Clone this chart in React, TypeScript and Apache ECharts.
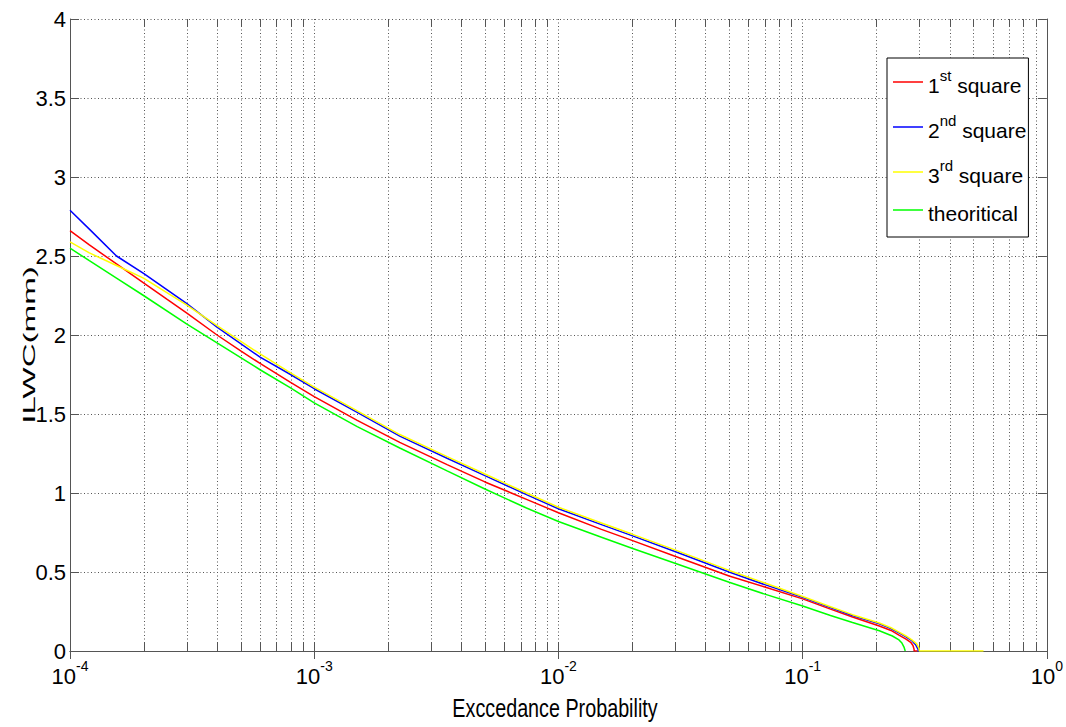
import React, { useEffect, useRef } from "react";
import * as echarts from "echarts";

// [exceedance probability, ILWC (mm)]
const square1: [number, number][] = [
  [1e-4, 2.66], [1.2e-4, 2.57], [1.55e-4, 2.45], [2e-4, 2.33], [2.5e-4, 2.225], [3e-4, 2.14],
  [4e-4, 2.0], [5e-4, 1.9], [6e-4, 1.82], [8e-4, 1.7], [1e-3, 1.61], [1.5e-3, 1.46],
  [2.24e-3, 1.32], [3.5e-3, 1.18], [5e-3, 1.07], [7.4e-3, 0.96], [1e-2, 0.875], [1.5e-2, 0.77],
  [2e-2, 0.7], [3e-2, 0.6], [5e-2, 0.475], [7e-2, 0.405], [1e-1, 0.33], [1.3e-1, 0.265],
  [1.6e-1, 0.215], [2.06e-1, 0.158], [2.3e-1, 0.13], [2.48e-1, 0.1], [2.65e-1, 0.075],
  [2.77e-1, 0.055], [2.83e-1, 0.035], [2.86e-1, 0.01], [2.86e-1, 0], [2.95e-1, 0],
];
const square2: [number, number][] = [
  [1e-4, 2.79], [1.2e-4, 2.67], [1.55e-4, 2.5], [2e-4, 2.39], [3e-4, 2.2], [4e-4, 2.05],
  [6e-4, 1.86], [8e-4, 1.75], [1e-3, 1.66], [1.5e-3, 1.51], [2.24e-3, 1.36], [3.5e-3, 1.22],
  [5e-3, 1.11], [7.4e-3, 0.99], [1e-2, 0.9], [1.5e-2, 0.8], [2e-2, 0.73], [3e-2, 0.63],
  [5e-2, 0.5], [7e-2, 0.42], [1e-1, 0.34], [1.3e-1, 0.275], [1.6e-1, 0.225], [2.06e-1, 0.172],
  [2.3e-1, 0.142], [2.48e-1, 0.115], [2.65e-1, 0.09], [2.8e-1, 0.065], [2.9e-1, 0.04],
  [2.97e-1, 0.01], [2.97e-1, 0], [3.0e-1, 0],
];
const square3: [number, number][] = [
  [1e-4, 2.59], [1.2e-4, 2.52], [1.55e-4, 2.44], [2e-4, 2.36], [3e-4, 2.19], [4e-4, 2.06],
  [6e-4, 1.88], [8e-4, 1.76], [1e-3, 1.67], [1.5e-3, 1.52], [2.24e-3, 1.37], [3.5e-3, 1.23],
  [5e-3, 1.12], [7.4e-3, 1.0], [1e-2, 0.91], [1.5e-2, 0.81], [2e-2, 0.74], [3e-2, 0.64],
  [5e-2, 0.51], [7e-2, 0.43], [1e-1, 0.345], [1.3e-1, 0.28], [1.6e-1, 0.23], [2.06e-1, 0.177],
  [2.3e-1, 0.147], [2.48e-1, 0.12], [2.65e-1, 0.095], [2.8e-1, 0.07], [2.93e-1, 0.045],
  [3.0e-1, 0.015], [3.0e-1, 0], [5.5e-1, 0],
];
const theoretical: [number, number][] = [
  [1e-4, 2.55], [1.2e-4, 2.47], [1.55e-4, 2.36], [2e-4, 2.25], [3e-4, 2.07], [4e-4, 1.95],
  [6e-4, 1.78], [8e-4, 1.665], [1e-3, 1.57], [1.5e-3, 1.42], [2.24e-3, 1.285], [3.5e-3, 1.14],
  [5e-3, 1.025], [7.4e-3, 0.905], [1e-2, 0.82], [1.5e-2, 0.72], [2e-2, 0.65], [3e-2, 0.555],
  [5e-2, 0.435], [7e-2, 0.36], [1e-1, 0.285], [1.3e-1, 0.225], [1.6e-1, 0.18], [2.06e-1, 0.128],
  [2.33e-1, 0.095], [2.48e-1, 0.07], [2.55e-1, 0.05], [2.6e-1, 0.025], [2.63e-1, 0],
];

const seriesNames = ["1st square", "2nd square", "3rd square", "theoritical"];
const seriesColors = ["#ff0000", "#0000ff", "#ffff00", "#00ff00"];
const seriesData = [square1, square2, square3, theoretical];

const xMin = 1e-4;
const xMax = 1;
const yMin = 0;
const yMax = 4;
const yStep = 0.5;

// minor log ticks 2..9 of each decade
const minorDecades = [-4, -3, -2, -1];
const minorMultipliers = [2, 3, 4, 5, 6, 7, 8, 9];

const xTitle = "Exccedance Probability";
const yTitle = "ILWC(mm)";

const LABEL_FONT = "'Liberation Sans', Arial, sans-serif";
const AXIS_COLOR = "#555";
const GRID_COLOR = "#555";

export default function App() {
  const ref = useRef<HTMLDivElement>(null);

  useEffect(() => {
    if (!ref.current) return;
    const chart = echarts.init(ref.current, null, { renderer: "svg" });

    const minorData: number[][] = [];
    minorDecades.forEach((d) =>
      minorMultipliers.forEach((m) => minorData.push([m * Math.pow(10, d), 0]))
    );

    const axisRich = {
      n: { fontSize: 22, fontFamily: LABEL_FONT, color: "#000", lineHeight: 28, verticalAlign: "bottom" as const },
      sup: { fontSize: 14, fontFamily: LABEL_FONT, color: "#000", lineHeight: 14, verticalAlign: "top" as const },
    };
    const legendRich = {
      n: { fontSize: 21, fontFamily: LABEL_FONT, color: "#000", lineHeight: 28, verticalAlign: "bottom" as const },
      sup: { fontSize: 15, fontFamily: LABEL_FONT, color: "#000", lineHeight: 15, verticalAlign: "top" as const },
    };

    const option: any = {
      animation: false,
      backgroundColor: "#fff",
      grid: { left: 70, right: 18, top: 19, bottom: 76, containLabel: false },
      legend: {
        data: seriesNames,
        orient: "vertical",
        left: 887,
        top: 58,
        padding: [10, 2, 13, 6],
        itemGap: 17,
        itemWidth: 30,
        itemHeight: 1.5,
        icon: "rect",
        borderColor: "#000",
        borderWidth: 1,
        backgroundColor: "#fff",
        formatter: (name: string) => {
          const m = name.match(/^(\d)(st|nd|rd) (.*)$/);
          return m ? `{n|${m[1]}}{sup|${m[2]}}{n| ${m[3]}}` : `{n|${name}}`;
        },
        textStyle: { rich: legendRich, fontSize: 21, fontFamily: LABEL_FONT },
      },
      xAxis: [
        {
          type: "log",
          logBase: 10,
          min: xMin,
          max: xMax,
          position: "bottom",
          axisLine: { show: true, lineStyle: { color: AXIS_COLOR, width: 1 } },
          axisTick: { show: true, inside: true, length: 8, lineStyle: { color: AXIS_COLOR } },
          axisLabel: {
            show: true,
            margin: 8,
            formatter: (v: number) => `{n|10}{sup|${Math.round(Math.log10(v))}}`,
            rich: axisRich,
          },
          splitLine: { show: true, lineStyle: { color: GRID_COLOR, type: [1, 2.5], width: 1 } },
        },
        {
          type: "log",
          logBase: 10,
          min: xMin,
          max: xMax,
          position: "top",
          axisLine: { show: true, lineStyle: { color: AXIS_COLOR, width: 1 } },
          axisTick: { show: true, inside: true, length: 8, lineStyle: { color: AXIS_COLOR } },
          axisLabel: { show: false },
          splitLine: { show: false },
        },
      ],
      yAxis: [
        {
          type: "value",
          min: yMin,
          max: yMax,
          interval: yStep,
          position: "left",
          axisLine: { show: true, lineStyle: { color: AXIS_COLOR, width: 1 } },
          axisTick: { show: true, inside: true, length: 9, lineStyle: { color: AXIS_COLOR } },
          axisLabel: { margin: 4, fontSize: 22, fontFamily: LABEL_FONT, color: "#000" },
          splitLine: { show: true, lineStyle: { color: GRID_COLOR, type: [1, 2.5], width: 1 } },
        },
        {
          type: "value",
          min: yMin,
          max: yMax,
          interval: yStep,
          position: "right",
          axisLine: { show: true, lineStyle: { color: AXIS_COLOR, width: 1 } },
          axisTick: { show: true, inside: true, length: 9, lineStyle: { color: AXIS_COLOR } },
          axisLabel: { show: false },
          splitLine: { show: false },
        },
      ],
      graphic: [
        {
          type: "text",
          x: 555,
          y: 708,
          scaleX: 0.76,
          style: {
            text: xTitle,
            fontSize: 26,
            fontFamily: "'Liberation Sans', Arial, sans-serif",
            fill: "#000",
            align: "center",
            verticalAlign: "middle",
          },
        },
        {
          type: "text",
          x: 29,
          y: 345,
          rotation: Math.PI / 2,
          scaleX: 1.95,
          style: {
            text: yTitle,
            fontSize: 17,
            fontFamily: "'Liberation Sans', Arial, sans-serif",
            fill: "#000",
            align: "center",
            verticalAlign: "middle",
          },
        },
      ],
      series: [
        {
          type: "custom",
          name: "minor",
          xAxisIndex: 0,
          yAxisIndex: 0,
          silent: true,
          z: 1,
          data: minorData,
          encode: { x: 0, y: 1 },
          renderItem: (params: any, api: any) => {
            const v = api.value(0);
            const top = api.coord([v, yMax]);
            const bot = api.coord([v, yMin]);
            const x = Math.round(bot[0]) + 0.5;
            return {
              type: "group",
              children: [
                {
                  type: "line",
                  shape: { x1: x, y1: top[1], x2: x, y2: bot[1] },
                  style: { stroke: GRID_COLOR, lineWidth: 1, lineDash: [1, 2.5] },
                },
                {
                  type: "line",
                  shape: { x1: x, y1: bot[1], x2: x, y2: bot[1] - 8 },
                  style: { stroke: AXIS_COLOR, lineWidth: 1 },
                },
                {
                  type: "line",
                  shape: { x1: x, y1: top[1], x2: x, y2: top[1] + 8 },
                  style: { stroke: AXIS_COLOR, lineWidth: 1 },
                },
              ],
            };
          },
        },
        ...seriesNames.map((name, i) => ({
          type: "line",
          name,
          data: seriesData[i],
          xAxisIndex: 0,
          yAxisIndex: 0,
          symbol: "none",
          z: 3 + i,
          lineStyle: { color: seriesColors[i], width: 1.5 },
          itemStyle: { color: seriesColors[i] },
          clip: true,
        })),
      ],
    };

    chart.setOption(option);
    return () => chart.dispose();
  }, []);

  return (
    <div
      ref={ref}
      style={{ position: "absolute", left: 0, top: 0, width: 1066, height: 727, background: "#fff" }}
    />
  );
}
